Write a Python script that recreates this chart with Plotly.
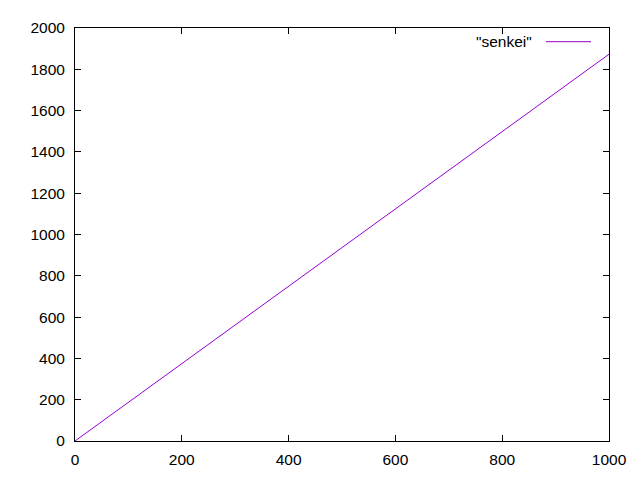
import plotly.graph_objects as go

x_vals = [0, 200, 400, 600, 800, 1000]
y_vals = [0, 374.6, 749.2, 1123.8, 1498.4, 1873]
x_ticks = [0, 200, 400, 600, 800, 1000]
y_ticks = [0, 200, 400, 600, 800, 1000, 1200, 1400, 1600, 1800, 2000]
series_name = '"senkei"'
color = "#9400d3"

# plot area in window pixels (page body has 8px margin)
L, R, T, B = 75, 609, 19, 441
off = 8

fig = go.Figure()
fig.add_trace(go.Scatter(x=x_vals, y=y_vals, mode="lines",
                         line=dict(color=color, width=1), showlegend=False))

font = dict(family="Liberation Sans, Arial", size=15.5, color="black")
axis_common = dict(showline=True, linecolor="black", linewidth=1, mirror="allticks",
                   ticks="inside", ticklen=6, tickcolor="black", showgrid=False,
                   zeroline=False, tickfont=font)
fig.update_xaxes(range=[0, 1000], tickvals=x_ticks, ticklabelstandoff=4, **axis_common)
fig.update_yaxes(range=[0, 2000], tickvals=y_ticks, ticklabelstandoff=6, **axis_common)

fig.update_layout(
    width=640, height=480,
    margin=dict(l=L - off, r=640 - (R - off), t=T - off, b=480 - (B - off), pad=0),
    paper_bgcolor="white", plot_bgcolor="white",
)
W, H = R - L, B - T
ly = 1 - (33 - T) / H
fig.add_annotation(xref="paper", yref="paper", x=(534 - L) / W, y=ly,
                   text=series_name, showarrow=False, xanchor="right", yanchor="middle",
                   font=font)
fig.add_shape(type="line", xref="paper", yref="paper",
              x0=(546 - L) / W, x1=(591 - L) / W, y0=ly, y1=ly,
              line=dict(color=color, width=1))
fig.write_html("out.html")
